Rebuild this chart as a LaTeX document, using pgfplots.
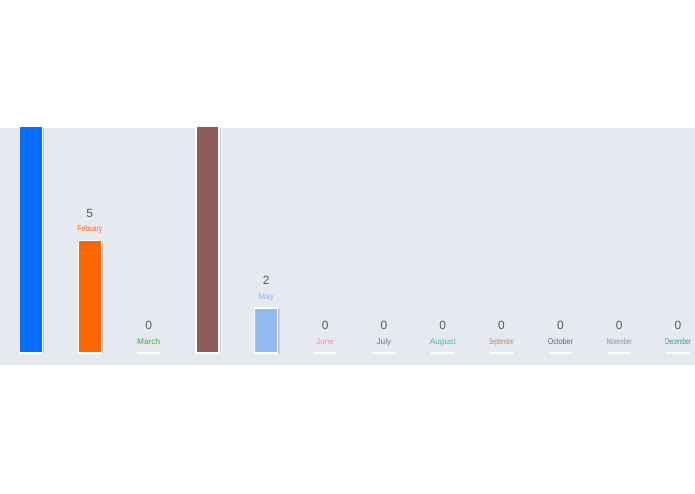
\documentclass[border=0pt]{standalone}
\usepackage{pgfplots}
\pgfplotsset{compat=1.18}
\usepackage{graphicx}
\usepackage{fontspec}
\setmainfont{Liberation Sans}
\usetikzlibrary{shadows}

\definecolor{band}{RGB}{230,234,240}
\definecolor{numgray}{RGB}{88,88,88}
\definecolor{janc}{RGB}{10,108,255}
\definecolor{febc}{RGB}{255,102,0}
\definecolor{marc}{RGB}{60,170,80}
\definecolor{aprc}{RGB}{142,90,90}
\definecolor{mayc}{RGB}{148,186,240}
\definecolor{junc}{RGB}{240,140,180}
\definecolor{julc}{RGB}{125,105,150}
\definecolor{augc}{RGB}{70,180,190}
\definecolor{sepc}{RGB}{190,130,110}
\definecolor{octc}{RGB}{90,100,120}
\definecolor{novc}{RGB}{110,150,160}
\definecolor{decc}{RGB}{50,150,160}

% value on top, month name below it, both above the bar
\newcommand{\lbl}[3]{{\fontsize{12}{15}\selectfont\color{numgray}\pgfmathprintnumber{\pgfplotspointmeta}}\\{\color{#2}\scalebox{#3}[1]{#1}\vphantom{y}}}

\begin{document}
\begin{tikzpicture}
\path[use as bounding box, fill=white] (0,0) rectangle (695bp,494bp);
\begin{axis}[
    at={(0bp,129bp)}, anchor=south west,
    scale only axis,
    width=695bp, height=237bp,
    xmin=-0.527, xmax=11.289,
    ymin=-0.533, ymax=10,
    axis line style={draw=none},
    ticks=none,
    axis background/.style={fill=band},
    /pgf/number format/assume math mode=true,
    ybar,
    bar width=23bp,
    every axis plot post/.append style={bar shift=0pt},
    every axis plot/.append style={draw=white, line width=1.2bp,
        drop shadow={shadow xshift=2bp, shadow yshift=-0.5bp, fill=black!60, opacity=0.35}},
    nodes near coords style={anchor=south, inner sep=0pt, yshift=6.5bp, align=center,
        font=\fontsize{8.3}{14.5}\selectfont},
]
    \addplot[fill=janc] coordinates {(0,14)};
    \addplot[fill=febc, nodes near coords={\lbl{Febuary}{febc}{0.82}}] coordinates {(1,5)};
    \addplot[fill=marc, nodes near coords={\lbl{March}{marc}{1}}] coordinates {(2,0)};
    \addplot[fill=aprc] coordinates {(3,13)};
    \addplot[fill=mayc, nodes near coords={\lbl{May}{mayc}{1}}] coordinates {(4,2)};
    \addplot[fill=junc, nodes near coords={\lbl{June}{junc}{1}}] coordinates {(5,0)};
    \addplot[fill=julc, nodes near coords={\lbl{July}{julc}{1}}] coordinates {(6,0)};
    \addplot[fill=augc, nodes near coords={\lbl{August}{augc}{1}}] coordinates {(7,0)};
    \addplot[fill=sepc, nodes near coords={\lbl{September}{sepc}{0.62}}] coordinates {(8,0)};
    \addplot[fill=octc, nodes near coords={\lbl{October}{octc}{0.85}}] coordinates {(9,0)};
    \addplot[fill=novc, nodes near coords={\lbl{November}{novc}{0.65}}] coordinates {(10,0)};
    \addplot[fill=decc, nodes near coords={\lbl{December}{decc}{0.68}}] coordinates {(11,0)};
\end{axis}
\end{tikzpicture}
\end{document}
